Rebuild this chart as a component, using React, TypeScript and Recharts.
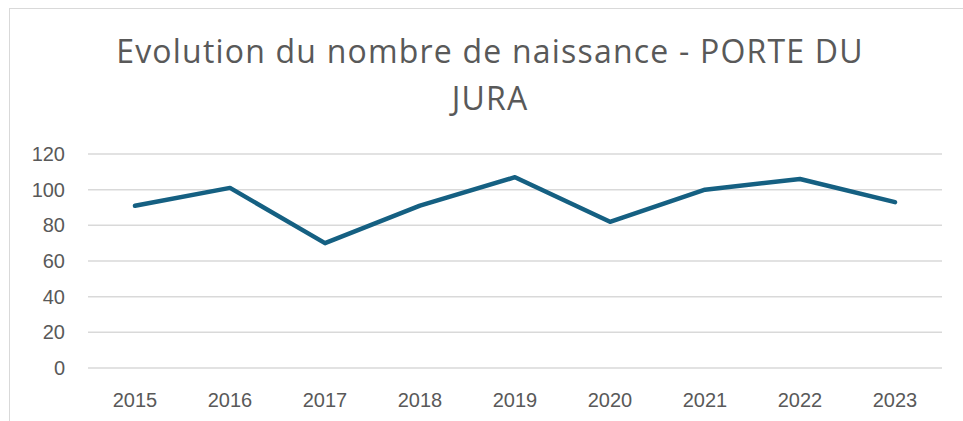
import React from "react";
import { LineChart, Line, XAxis, YAxis, CartesianGrid } from "recharts";

const years = ["2015", "2016", "2017", "2018", "2019", "2020", "2021", "2022", "2023"];
const births = [91, 101, 70, 91, 107, 82, 100, 106, 93];
const yTicks = [0, 20, 40, 60, 80, 100, 120];

const title = "Evolution du nombre de naissance - PORTE DU JURA";

const data = years.map((year, i) => ({ year, births: births[i] }));

const textColor = "#595959";
const gridColor = "#d9d9d9";
const tickFont = "'Liberation Sans', Arial, sans-serif";

export default function App() {
  return (
    <div style={{ position: "absolute", left: 0, top: 0, width: 963, height: 421, overflow: "hidden", background: "#fff" }}>
      {/* chart frame, only the left and top edges are in view */}
      <div
        style={{
          position: "absolute",
          left: 9,
          top: 8,
          width: 1000,
          height: 500,
          border: `1.5px solid ${gridColor}`,
          boxSizing: "border-box",
        }}
      />
      <div
        style={{
          position: "absolute",
          left: 100,
          top: 27,
          width: 780,
          textAlign: "center",
          fontFamily: "'Open Sans', sans-serif",
          fontSize: 32,
          letterSpacing: 1.2,
          lineHeight: "47px",
          color: textColor,
        }}
      >
        {title}
      </div>
      <div style={{ position: "absolute", left: 0, top: 0 }}>
        <LineChart
          width={963}
          height={421}
          data={data}
          margin={{ top: 154, right: 21, bottom: 23, left: 28 }}
        >
          <CartesianGrid vertical={false} stroke={gridColor} strokeWidth={1.5} />
          <XAxis
            dataKey="year"
            height={30}
            padding={{ left: 47, right: 47 }}
            axisLine={false}
            tickLine={false}
            tickSize={6}
            tickMargin={19}
            tick={{ fill: textColor, fontSize: 20, fontFamily: tickFont }}
            interval={0}
          />
          <YAxis
            width={60}
            domain={[0, 120]}
            ticks={yTicks}
            axisLine={false}
            tickLine={false}
            tickSize={6}
            tickMargin={17}
            tick={{ fill: textColor, fontSize: 20, fontFamily: tickFont }}
          />
          <Line
            type="linear"
            dataKey="births"
            stroke="#156082"
            strokeWidth={4.5}
            strokeLinecap="round"
            strokeLinejoin="round"
            dot={false}
            activeDot={false}
            isAnimationActive={false}
          />
        </LineChart>
      </div>
    </div>
  );
}
